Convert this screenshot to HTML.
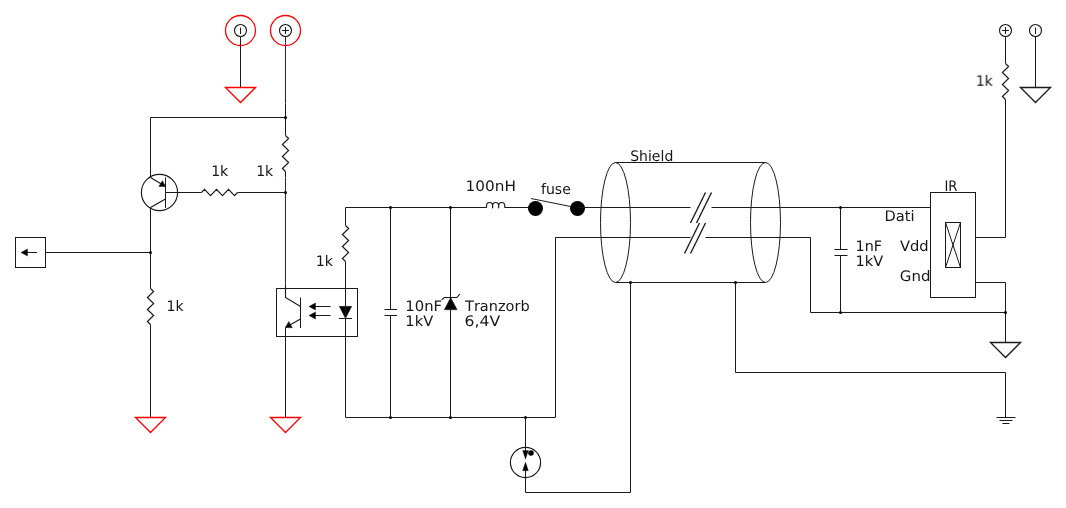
<!DOCTYPE html>
<html><head><meta charset="utf-8"><title>Schematic</title>
<style>
html,body{margin:0;padding:0;background:#fff;overflow:hidden}
svg{display:block;will-change:transform}
text{font-kerning:none;text-rendering:geometricPrecision;font-family:"DejaVu Sans","Liberation Sans",sans-serif;fill:#161616}
</style></head><body>
<svg width="1066" height="508" viewBox="0 0 1066 508">
<rect width="1066" height="508" fill="#fff"/>
<g transform="translate(0.5,0.5)" fill="none" stroke-linecap="butt">
<circle cx="240" cy="30" r="6" stroke="#1a1a1a" fill="none" stroke-width="1.15"/>
<line x1="240" y1="27" x2="240" y2="33.5" stroke="#1a1a1a" stroke-width="1"/>
<line x1="240" y1="36" x2="240" y2="87" stroke="#1a1a1a" stroke-width="1"/>
<polygon points="225,87 255,87 240,102" stroke="#ff0000" fill="none" stroke-width="1.35"/>
<circle cx="285" cy="30" r="6" stroke="#1a1a1a" fill="none" stroke-width="1.15"/>
<line x1="285" y1="26.5" x2="285" y2="33.5" stroke="#1a1a1a" stroke-width="1"/>
<line x1="281.5" y1="30" x2="288.5" y2="30" stroke="#1a1a1a" stroke-width="1"/>
<line x1="285" y1="36" x2="285" y2="42" stroke="#1a1a1a" stroke-width="1"/>
<line x1="285" y1="42" x2="285" y2="103" stroke="#1a1aa6" stroke-width="1"/>
<line x1="285" y1="103" x2="285" y2="135" stroke="#1a1a1a" stroke-width="1"/>
<circle cx="240" cy="30" r="15" stroke="#ff0000" fill="none" stroke-width="1.3"/>
<circle cx="285" cy="30" r="15" stroke="#ff0000" fill="none" stroke-width="1.3"/>
<polyline points="285,117 150,117 150,177" stroke="#1a1a1a" fill="none" stroke-width="1"/>
<circle cx="285" cy="117" r="1.5" fill="#000"/>
<polyline points="285,135 288.1,138 281.9,144 288.1,150 281.9,156 288.1,162 281.9,168 285,171" stroke="#1a1a1a" fill="none" stroke-width="1.2"/>
<line x1="285" y1="171" x2="285" y2="177" stroke="#1a1a1a" stroke-width="1"/>
<line x1="285" y1="177" x2="285" y2="283" stroke="#1a1aa6" stroke-width="1"/>
<line x1="285" y1="283" x2="285" y2="288" stroke="#1a1a1a" stroke-width="1"/>
<circle cx="285" cy="192" r="1.5" fill="#000"/>
<line x1="165" y1="192" x2="201" y2="192" stroke="#1a1a1a" stroke-width="1"/>
<polyline points="201,192 204,188.9 210,195.1 216,188.9 222,195.1 228,188.9 234,195.1 237,192" stroke="#1a1a1a" fill="none" stroke-width="1.2"/>
<line x1="237" y1="192" x2="285" y2="192" stroke="#1a1a1a" stroke-width="1"/>
<circle cx="159" cy="192" r="18.1" stroke="#1a1a1a" fill="none" stroke-width="1.15"/>
<line x1="165" y1="177" x2="165" y2="207.5" stroke="#1a1a1a" stroke-width="1"/>
<line x1="150" y1="177" x2="165" y2="186" stroke="#1a1a1a" stroke-width="1.15"/>
<line x1="165" y1="198.5" x2="150" y2="207" stroke="#1a1a1a" stroke-width="1.15"/>
<polygon points="165,186 158.36,185.98 161.86,180.15" stroke="#1a1a1a" fill="#000" stroke-width="0.5"/>
<line x1="150" y1="207" x2="150" y2="288" stroke="#1a1a1a" stroke-width="1"/>
<polyline points="150,288 153.1,291 146.9,297 153.1,303 146.9,309 153.1,315 146.9,321 150,324" stroke="#1a1a1a" fill="none" stroke-width="1.2"/>
<line x1="150" y1="324" x2="150" y2="417" stroke="#1a1a1a" stroke-width="1"/>
<circle cx="150" cy="252" r="1.5" fill="#000"/>
<polygon points="135,417 165,417 150,432" stroke="#ff0000" fill="none" stroke-width="1.35"/>
<rect x="15" y="237" width="30" height="30" fill="none" stroke="#1a1a1a"/>
<line x1="45" y1="252" x2="150" y2="252" stroke="#1a1a1a" stroke-width="1"/>
<line x1="24" y1="252" x2="36.5" y2="252" stroke="#1a1a1a" stroke-width="1"/>
<polygon points="20.5,252 27.0,248.5 27.0,255.5" stroke="#1a1a1a" fill="#000" stroke-width="0.5"/>
<rect x="276" y="288" width="81" height="48" fill="none" stroke="#1a1a1a"/>
<polyline points="285,288 285,297 300,306" stroke="#1a1a1a" fill="none" stroke-width="1.15"/>
<line x1="300" y1="297" x2="300" y2="327.5" stroke="#1a1a1a" stroke-width="1"/>
<line x1="300" y1="318.5" x2="285" y2="327" stroke="#1a1a1a" stroke-width="1.15"/>
<polygon points="285,327 288.27,321.01 291.82,327.27" stroke="#1a1a1a" fill="#000" stroke-width="0.5"/>
<line x1="285" y1="327" x2="285" y2="417" stroke="#1a1a1a" stroke-width="1"/>
<polygon points="270,417 300,417 285,432" stroke="#ff0000" fill="none" stroke-width="1.35"/>
<line x1="330" y1="306" x2="312" y2="306" stroke="#1a1a1a" stroke-width="1"/>
<polygon points="308.5,306 315.0,302.5 315.0,309.5" stroke="#1a1a1a" fill="#000" stroke-width="0.5"/>
<line x1="330" y1="315" x2="312" y2="315" stroke="#1a1a1a" stroke-width="1"/>
<polygon points="308.5,315 315.0,311.5 315.0,318.5" stroke="#1a1a1a" fill="#000" stroke-width="0.5"/>
<polygon points="338.7,305.8 351.3,305.8 345,318" stroke="#1a1a1a" fill="#000" stroke-width="0.4"/>
<line x1="338.5" y1="318" x2="351.5" y2="318" stroke="#1a1a1a" stroke-width="1"/>
<polyline points="345,225 345,207 486,207" stroke="#1a1a1a" fill="none" stroke-width="1"/>
<polyline points="345,225 348.1,228 341.9,234 348.1,240 341.9,246 348.1,252 341.9,258 345,261" stroke="#1a1a1a" fill="none" stroke-width="1.2"/>
<line x1="345" y1="261" x2="345" y2="417" stroke="#1a1a1a" stroke-width="1"/>
<line x1="345" y1="417" x2="555" y2="417" stroke="#1a1a1a" stroke-width="1"/>
<circle cx="390" cy="207" r="1.5" fill="#000"/>
<circle cx="450" cy="207" r="1.5" fill="#000"/>
<circle cx="390" cy="417" r="1.5" fill="#000"/>
<circle cx="450" cy="417" r="1.5" fill="#000"/>
<circle cx="525" cy="417" r="1.5" fill="#000"/>
<line x1="390" y1="207" x2="390" y2="309" stroke="#1a1a1a" stroke-width="1"/>
<line x1="384" y1="309" x2="396.5" y2="309" stroke="#1a1a1a" stroke-width="1"/>
<line x1="384" y1="315" x2="396.5" y2="315" stroke="#1a1a1a" stroke-width="1"/>
<line x1="390" y1="315" x2="390" y2="417" stroke="#1a1a1a" stroke-width="1"/>
<line x1="450" y1="207" x2="450" y2="417" stroke="#1a1a1a" stroke-width="1"/>
<polygon points="443.7,309.3 456.7,309.3 450.2,297" stroke="#1a1a1a" fill="#000" stroke-width="0.4"/>
<polyline points="441.2,299.4 443.8,297 456.4,297 459.3,293.6" stroke="#1a1a1a" fill="none" stroke-width="1.1"/>
<path d="M486,207.3 v-2 a3.05,3.3 0 0 1 6.1,0 v2 v-2 a3.05,3.3 0 0 1 6.1,0 v2 v-2 a3.05,3.3 0 0 1 6.1,0 v2" fill="none" stroke="#1a1a1a" stroke-width="1.2" stroke-linejoin="round"/>
<line x1="504.3" y1="207" x2="528" y2="207" stroke="#1a1a1a" stroke-width="1"/>
<circle cx="535" cy="208" r="7.5" fill="#000"/>
<circle cx="577" cy="208" r="7.5" fill="#000"/>
<line x1="530.5" y1="198" x2="570" y2="206" stroke="#1a1a1a" stroke-width="1"/>
<line x1="577" y1="207" x2="690" y2="207" stroke="#1a1a1a" stroke-width="1"/>
<ellipse cx="615" cy="222" rx="15" ry="60" fill="none" stroke="#1a1a1a"/>
<ellipse cx="765" cy="222" rx="15" ry="60" fill="none" stroke="#1a1a1a"/>
<line x1="615" y1="162" x2="765" y2="162" stroke="#1a1a1a" stroke-width="1"/>
<line x1="615" y1="282" x2="765" y2="282" stroke="#1a1a1a" stroke-width="1"/>
<polyline points="555,417 555,237 690,237" stroke="#1a1a1a" fill="none" stroke-width="1"/>
<line x1="690" y1="222.5" x2="705" y2="192" stroke="#1a1a1a" stroke-width="1.35"/>
<line x1="696" y1="222.5" x2="711" y2="192" stroke="#1a1a1a" stroke-width="1.35"/>
<line x1="684" y1="253" x2="699" y2="222.5" stroke="#1a1a1a" stroke-width="1.35"/>
<line x1="690" y1="253" x2="705" y2="222.5" stroke="#1a1a1a" stroke-width="1.35"/>
<line x1="711" y1="207" x2="930" y2="207" stroke="#1a1a1a" stroke-width="1"/>
<polyline points="705,237 810,237 810,312 1005,312" stroke="#1a1a1a" fill="none" stroke-width="1"/>
<circle cx="630" cy="282" r="1.5" fill="#000"/>
<circle cx="735" cy="282" r="1.5" fill="#000"/>
<polyline points="630,282 630,492 525,492 525,470" stroke="#1a1a1a" fill="none" stroke-width="1"/>
<polyline points="735,282 735,372 1005,372 1005,417" stroke="#1a1a1a" fill="none" stroke-width="1"/>
<line x1="996" y1="417" x2="1015" y2="417" stroke="#1a1a1a" stroke-width="1"/>
<line x1="999" y1="420" x2="1012" y2="420" stroke="#1a1a1a" stroke-width="1"/>
<line x1="1002" y1="423" x2="1009" y2="423" stroke="#1a1a1a" stroke-width="1"/>
<line x1="525" y1="417" x2="525" y2="451" stroke="#1a1a1a" stroke-width="1"/>
<circle cx="525" cy="462" r="15.1" stroke="#1a1a1a" fill="none" stroke-width="1.15"/>
<polygon points="522.1,450 527.9,450 525,458.8" stroke="#1a1a1a" fill="#000" stroke-width="0.3"/>
<polygon points="522.1,470.3 527.9,470.3 525,461.5" stroke="#1a1a1a" fill="#000" stroke-width="0.3"/>
<circle cx="530.5" cy="452.5" r="2.8" fill="#000"/>
<circle cx="840" cy="207" r="1.5" fill="#000"/>
<circle cx="840" cy="312" r="1.5" fill="#000"/>
<line x1="840" y1="207" x2="840" y2="249" stroke="#1a1a1a" stroke-width="1"/>
<line x1="834" y1="249" x2="847" y2="249" stroke="#1a1a1a" stroke-width="1"/>
<line x1="834" y1="255" x2="847" y2="255" stroke="#1a1a1a" stroke-width="1"/>
<line x1="840" y1="255" x2="840" y2="312" stroke="#1a1a1a" stroke-width="1"/>
<rect x="930" y="192" width="45" height="105" fill="none" stroke="#1a1a1a"/>
<rect x="945" y="222" width="15" height="45" fill="none" stroke="#1a1a1a"/>
<line x1="945" y1="222" x2="960" y2="267" stroke="#1a1a1a" stroke-width="1"/>
<line x1="960" y1="222" x2="945" y2="267" stroke="#1a1a1a" stroke-width="1"/>
<polyline points="975,237 1005,237 1005,99" stroke="#1a1a1a" fill="none" stroke-width="1"/>
<polyline points="1005,63 1008.1,66 1001.9,72 1008.1,78 1001.9,84 1008.1,90 1001.9,96 1005,99" stroke="#1a1a1a" fill="none" stroke-width="1.2"/>
<line x1="1005" y1="63" x2="1005" y2="36" stroke="#1a1a1a" stroke-width="1"/>
<circle cx="1005" cy="30" r="6" stroke="#1a1a1a" fill="none" stroke-width="1.15"/>
<line x1="1005" y1="26.5" x2="1005" y2="33.5" stroke="#1a1a1a" stroke-width="1"/>
<line x1="1001.5" y1="30" x2="1008.5" y2="30" stroke="#1a1a1a" stroke-width="1"/>
<circle cx="1035" cy="30" r="6" stroke="#1a1a1a" fill="none" stroke-width="1.15"/>
<line x1="1035" y1="27" x2="1035" y2="33.5" stroke="#1a1a1a" stroke-width="1"/>
<line x1="1035" y1="36" x2="1035" y2="87" stroke="#1a1a1a" stroke-width="1"/>
<polygon points="1020,87 1050,87 1035,102" stroke="#1a1a1a" fill="none" stroke-width="1.35"/>
<polyline points="975,282 1005,282 1005,342" stroke="#1a1a1a" fill="none" stroke-width="1"/>
<circle cx="1005" cy="312" r="1.5" fill="#000"/>
<polygon points="990,342 1020,342 1005,357" stroke="#1a1a1a" fill="none" stroke-width="1.35"/>
</g>
<g style="filter:grayscale(1)">
<text transform="translate(211.16,176) scale(0.9695,1)" font-size="14.5">1k</text>
<text transform="translate(256.17,176) scale(0.9633,1)" font-size="14.5">1k</text>
<text transform="translate(166.56,311) scale(0.9695,1)" font-size="14.5">1k</text>
<text transform="translate(315.74,265.8) scale(0.9821,1)" font-size="14.5">1k</text>
<text transform="translate(405.27,310.5) scale(1.0225,1)" font-size="14.5">10nF</text>
<text transform="translate(405.28,325.7) scale(1.0144,1)" font-size="14.5">1kV</text>
<text transform="translate(465.04,310.5) scale(1.0001,1)" font-size="14.5">Tranzorb</text>
<text transform="translate(464.61,325.7) scale(1.0771,1)" font-size="14.5">6,4V</text>
<text transform="translate(465.62,191) scale(1.0524,1)" font-size="14.5">100nH</text>
<text transform="translate(540.98,193.7) scale(0.9708,1)" font-size="14.5">fuse</text>
<text transform="translate(630.18,160.8) scale(0.9668,1)" font-size="14.5">Shield</text>
<text transform="translate(944.51,191) scale(0.9032,1)" font-size="14.5">IR</text>
<text transform="translate(884.56,220.8) scale(1.0118,1)" font-size="14.5">Dati</text>
<text transform="translate(899.89,250.7) scale(1.0150,1)" font-size="14.5">Vdd</text>
<text transform="translate(899.76,281) scale(1.0364,1)" font-size="14.5">Gnd</text>
<text transform="translate(855.52,250.7) scale(0.9910,1)" font-size="14.5">1nF</text>
<text transform="translate(855.50,266) scale(1.0067,1)" font-size="14.5">1kV</text>
<text transform="translate(975.77,85.8) scale(0.9633,1)" font-size="14.5">1k</text>
</g></svg>
</body></html>
